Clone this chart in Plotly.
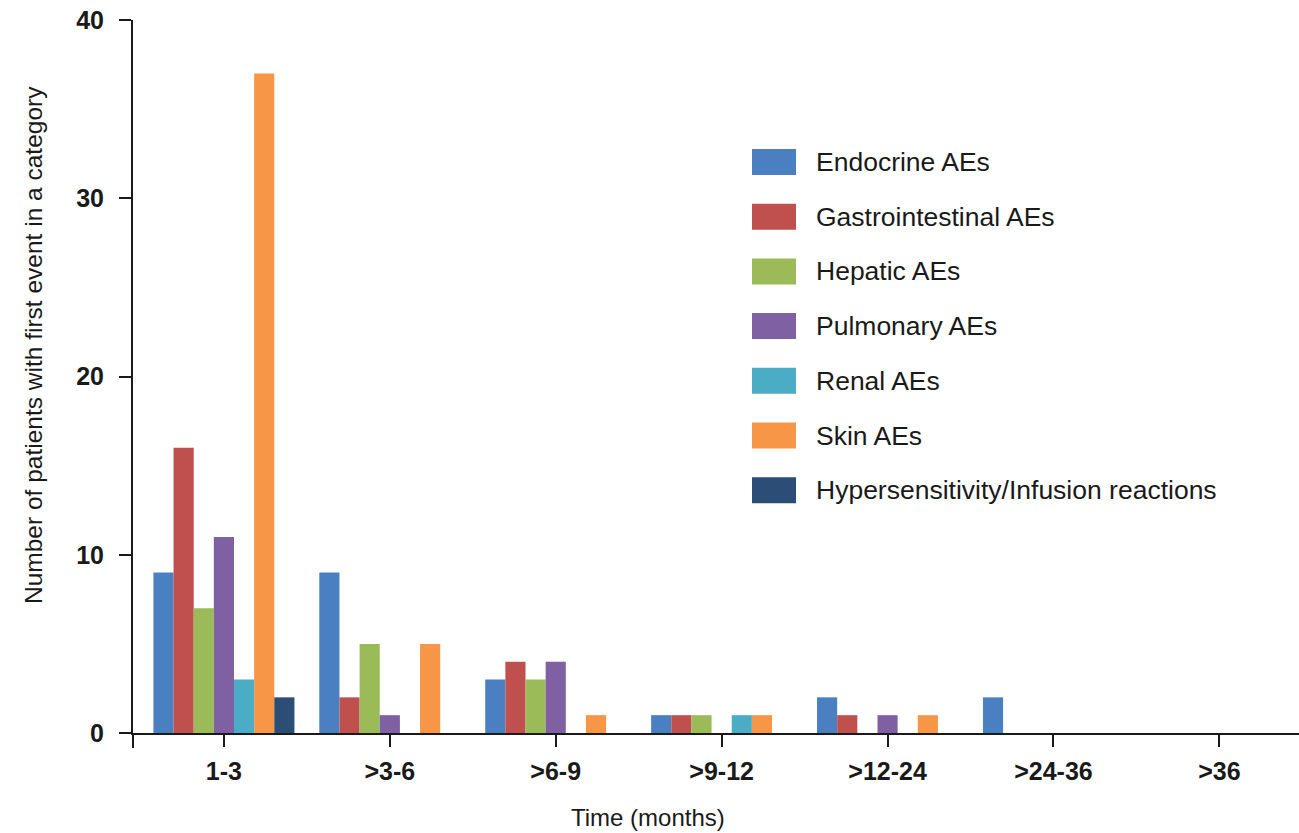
import plotly.graph_objects as go

categories = ["1-3", ">3-6", ">6-9", ">9-12", ">12-24", ">24-36", ">36"]
series_names = ["Endocrine AEs", "Gastrointestinal AEs", "Hepatic AEs", "Pulmonary AEs",
                "Renal AEs", "Skin AEs", "Hypersensitivity/Infusion reactions"]
endocrine = [9, 9, 3, 1, 2, 2, 0]
gastrointestinal = [16, 2, 4, 1, 1, 0, 0]
hepatic = [7, 5, 3, 1, 0, 0, 0]
pulmonary = [11, 1, 4, 0, 1, 0, 0]
renal = [3, 0, 0, 1, 0, 0, 0]
skin = [37, 5, 1, 1, 1, 0, 0]
hypersensitivity = [2, 0, 0, 0, 0, 0, 0]
series_values = [endocrine, gastrointestinal, hepatic, pulmonary, renal, skin, hypersensitivity]
colors = ["#4a7fc1", "#c0504d", "#9bbb59", "#7f60a3", "#4bacc6", "#f79646", "#2c4d75"]

FONT = "Liberation Sans, Arial, sans-serif"
TXT = "#1a1a1a"
W, H = 1299, 833
ML, MR, MT, MB = 133, 0, 20, 100
plot_h = H - MT - MB
plot_w = W - ML - MR

fig = go.Figure()
for name, vals, col in zip(series_names, series_values, colors):
    fig.add_trace(go.Bar(x=categories, y=vals, name=name, marker=dict(color=col, line=dict(width=0)),
                         showlegend=False))

# custom legend (large swatches)
annotations = []
shapes = []
row0, row_step = 162, 54.7
for i, (name, col) in enumerate(zip(series_names, colors)):
    cy = row0 + row_step * i
    y_top = (H - MB - (cy - 13)) / plot_h
    y_bot = (H - MB - (cy + 13)) / plot_h
    x0 = (752 - ML) / plot_w
    x1 = (796 - ML) / plot_w
    shapes.append(dict(type="rect", xref="paper", yref="paper", x0=x0, x1=x1, y0=y_bot, y1=y_top,
                       fillcolor=col, line=dict(width=0)))
    annotations.append(dict(xref="paper", yref="paper", x=(814 - ML) / plot_w, y=(H - MB - cy) / plot_h,
                            text=name, showarrow=False, xanchor="left", yanchor="middle",
                            font=dict(family=FONT, size=26.5, color=TXT)))

# axis titles
annotations.append(dict(xref="paper", yref="paper", x=(33 - ML) / plot_w, y=(H - MB - 345) / plot_h,
                        text="Number of patients with first event in a category", textangle=-90,
                        showarrow=False, xanchor="center", yanchor="middle",
                        font=dict(family=FONT, size=24.5, color=TXT)))
annotations.append(dict(xref="paper", yref="paper", x=(648 - ML) / plot_w, y=(H - MB - 818) / plot_h,
                        text="Time (months)", showarrow=False, xanchor="center", yanchor="middle",
                        font=dict(family=FONT, size=24, color=TXT)))

# y axis line extension below the x axis
shapes.append(dict(type="line", xref="paper", yref="paper", x0=0, x1=0, y0=0, y1=-15 / plot_h,
                   line=dict(color=TXT, width=2)))

fig.update_layout(
    width=W, height=H,
    margin=dict(l=ML, r=MR, t=MT, b=MB),
    plot_bgcolor="white", paper_bgcolor="white",
    barmode="group", bargap=0.15, bargroupgap=0,
    font=dict(family=FONT, color=TXT),
    shapes=shapes, annotations=annotations,
    xaxis=dict(type="category", range=[-0.548, 6.48], showline=True, linecolor=TXT, linewidth=2,
               ticks="outside", ticklen=12, tickwidth=2, tickcolor=TXT, showgrid=False,
               ticklabelstandoff=3,
               tickfont=dict(family=FONT, size=25, color=TXT, weight="bold")),
    yaxis=dict(range=[0, 40], dtick=10, showline=True, linecolor=TXT, linewidth=2,
               ticks="outside", ticklen=12, tickwidth=2, tickcolor=TXT, showgrid=False,
               zeroline=False, ticklabelstandoff=10,
               tickfont=dict(family=FONT, size=25, color=TXT, weight="bold")),
)

fig.write_html("out.html", config={"displayModeBar": False},
               post_script="document.body.style.margin='0';document.body.style.overflow='hidden';")
